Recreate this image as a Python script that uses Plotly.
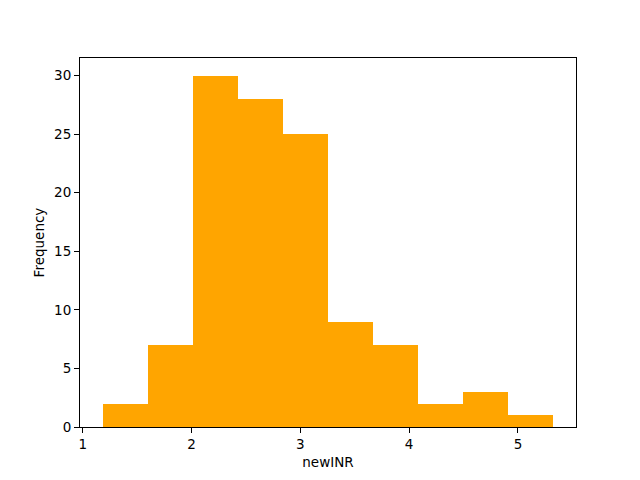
import numpy as np
import plotly.graph_objects as go

# histogram of newINR: bin edges and counts
bin_start = 1.182
bin_width = 0.4144
counts = [2, 7, 30, 28, 25, 9, 7, 2, 3, 1]
x_ticks = [1, 2, 3, 4, 5]
y_ticks = [0, 5, 10, 15, 20, 25, 30]

edges = bin_start + bin_width * np.arange(len(counts) + 1)
centers = (edges[:-1] + edges[1:]) / 2
span = edges[-1] - edges[0]

fig = go.Figure()
fig.add_bar(
    x=centers,
    y=counts,
    width=bin_width,
    marker={"color": "orange", "line": {"width": 0}},
    showlegend=False,
)

axis_style = dict(
    showline=True,
    linecolor="black",
    linewidth=1,
    mirror=True,
    ticks="outside",
    ticklen=5,
    tickcolor="black",
    showgrid=False,
    zeroline=False,
    automargin=False,
    tickfont={"size": 13.5, "color": "black"},
    title_font={"size": 13.5, "color": "black"},
)

fig.update_xaxes(
    range=[edges[0] - 0.05 * span, edges[-1] + 0.05 * span],
    tickvals=x_ticks,
    title="newINR",
    title_standoff=6,
    **axis_style,
)
fig.update_yaxes(
    range=[0, max(counts) * 1.05],
    tickvals=y_ticks,
    title="Frequency",
    title_standoff=6,
    **axis_style,
)
# page body adds an 8px offset, so margins are shifted to compensate
fig.update_layout(
    width=640,
    height=480,
    margin={"l": 72, "r": 72, "t": 50, "b": 61},
    bargap=0,
    plot_bgcolor="white",
    paper_bgcolor="white",
    font={"family": "DejaVu Sans", "color": "black"},
)

fig.write_html("out.html")
